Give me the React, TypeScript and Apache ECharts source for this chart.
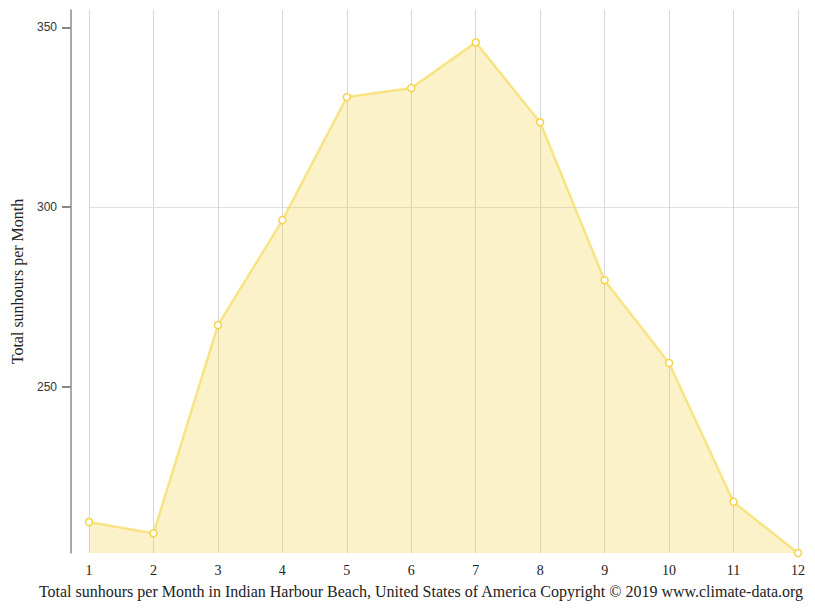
import React, { useEffect, useRef } from "react";
import * as echarts from "echarts";

const months = ["1", "2", "3", "4", "5", "6", "7", "8", "9", "10", "11", "12"];
const sunhours = [212.5, 209.4, 267.2, 296.4, 330.6, 333.1, 345.8, 323.6, 279.7, 256.7, 218.1, 203.9];
const yTicks = [250, 300, 350];
const yAxisTitle = "Total sunhours per Month";
const footer =
  "Total sunhours per Month in Indian Harbour Beach, United States of America Copyright © 2019 www.climate-data.org";

export default function App() {
  const ref = useRef<HTMLDivElement>(null);
  useEffect(() => {
    if (!ref.current) return;
    const chart = echarts.init(ref.current, undefined, { renderer: "svg" });
    chart.setOption({
      animation: false,
      grid: { left: 89, right: 17, top: 10, bottom: 58 },
      xAxis: {
        type: "category",
        data: months,
        boundaryGap: false,
        axisLine: { show: false },
        axisTick: { show: false },
        axisLabel: {
          margin: 10,
          fontFamily: "Liberation Serif",
          fontSize: 14,
          color: "#222",
        },
        splitLine: { show: true, lineStyle: { color: "#d6d6d6", width: 1 } },
      },
      yAxis: {
        type: "value",
        min: 203.9,
        max: 354.8,
        offset: 18,
        name: yAxisTitle,
        nameLocation: "middle",
        nameGap: 46,
        nameTextStyle: { fontFamily: "Liberation Serif", fontSize: 16, color: "#222" },
        axisLine: { show: true, lineStyle: { color: "#8c8c8c", width: 1.5 } },
        axisTick: {
          show: true,
          inside: false,
          length: 9,
          customValues: yTicks,
          lineStyle: { color: "#888888", width: 2 },
        },
        axisLabel: {
          customValues: yTicks,
          margin: 14,
          fontFamily: "Liberation Sans",
          fontSize: 12,
          color: "#333",
        },
        splitLine: {
          show: true,
          showMinLine: false,
          showMaxLine: false,
          lineStyle: { color: "#e0e0e0", width: 1 },
        },
      },
      series: [
        {
          type: "line",
          data: sunhours,
          symbol: "circle",
          symbolSize: 7,
          showAllSymbol: true,
          itemStyle: { color: "#fff", borderColor: "#f5d348", borderWidth: 1.5 },
          lineStyle: { color: "rgba(245,213,70,0.6)", width: 2.5 },
          areaStyle: { color: "rgba(244,210,60,0.4)", origin: "start" },
        },
      ],
      graphic: [
        {
          type: "text",
          x: 421,
          y: 583,
          style: {
            text: footer,
            font: "16px 'Liberation Serif'",
            fill: "#222",
            textAlign: "center",
          },
        },
      ],
    });
    return () => chart.dispose();
  }, []);
  return <div ref={ref} style={{ width: 815, height: 611, position: "absolute", left: 0, top: 0 }} />;
}
